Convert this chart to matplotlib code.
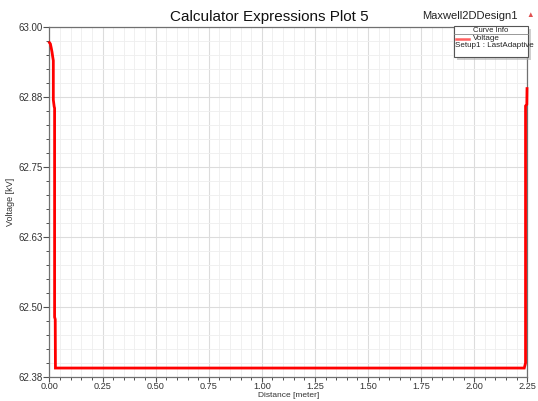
import numpy as np
import matplotlib
matplotlib.use('Agg')
import matplotlib.pyplot as plt
from matplotlib.ticker import MultipleLocator, FixedLocator, FormatStrFormatter
from matplotlib.patches import Rectangle

plt.rcParams['font.family'] = ['Liberation Sans', 'DejaVu Sans']

# voltage along the line
dist = [0.000, 0.004, 0.008, 0.012, 0.015, 0.018, 0.018, 0.022, 0.024, 0.024,
        0.027, 0.028, 2.236, 2.242, 2.242, 2.248, 2.249]
volt = [62.972, 62.970, 62.963, 62.955, 62.947, 62.940, 62.870, 62.858, 62.855, 62.482,
        62.478, 62.391, 62.391, 62.400, 62.859, 62.862, 62.890]

yticks = [62.375, 62.5, 62.625, 62.75, 62.875, 63.0]
ytick_labels = ['62.38', '62.50', '62.63', '62.75', '62.88', '63.00']

fig = plt.figure(figsize=(5.38, 4.01), dpi=100)
ax = fig.add_axes([0.092, 24/401, 0.888, 350/401])

ax.plot(dist, volt, color='#ff0000', lw=2.0, solid_joinstyle='miter', clip_on=False, zorder=3)

ax.set_xlim(0, 2.25)
ax.set_ylim(62.375, 63.0)
ax.xaxis.set_major_locator(MultipleLocator(0.25))
ax.xaxis.set_minor_locator(MultipleLocator(0.05))
ax.xaxis.set_major_formatter(FormatStrFormatter('%.2f'))
ax.yaxis.set_major_locator(FixedLocator(yticks))
ax.set_yticklabels(ytick_labels)
ax.yaxis.set_minor_locator(MultipleLocator(0.025))

ax.grid(which='major', color='#dcdcdc', lw=0.8)
ax.grid(which='minor', color='#eeeeee', lw=0.6)
ax.set_axisbelow(True)
for s in ax.spines.values():
    s.set_color('#707070')
    s.set_linewidth(0.9)
ax.tick_params(which='major', length=4, width=0.8, color='#505050', labelsize=7, labelcolor='#333333', pad=1)
ax.tick_params(axis='x', which='major', length=3.5, labelsize=6.6, pad=0.3)
ax.tick_params(which='minor', length=2.5, width=0.7, color='#505050')

ax.set_xlabel('Distance [meter]', fontsize=6.0, color='#333333')
ax.xaxis.set_label_coords(0.5, -15.0/350)
ax.set_ylabel('Voltage [kV]', fontsize=6.5, color='#333333', labelpad=2)

fig.text(0.5, 0.958, 'Calculator Expressions Plot 5', ha='center', va='center', fontsize=11, color='#111111')
fig.text(0.963, 0.960, 'Maxwell2DDesign1', ha='right', va='center', fontsize=8, color='#222222')
fig.text(0.985, 0.962, '\u25b2', ha='center', va='center', fontsize=5.5, color='#e05050')

# "Curve Info" box
bx0, by0, bw, bh = 454/538, 1-57/401, 74/538, 31/401
fig.patches.append(Rectangle((bx0+0.006, by0-0.008), bw, bh, transform=fig.transFigure,
                             facecolor='#b0b0b0', edgecolor='none', zorder=4, alpha=0.6))
fig.patches.append(Rectangle((bx0, by0), bw, bh, transform=fig.transFigure,
                             facecolor='white', edgecolor='#555555', lw=0.8, zorder=5))
fig.lines.append(plt.Line2D([bx0, bx0+bw], [by0+bh-8/401]*2, transform=fig.transFigure,
                            color='#888888', lw=0.6, zorder=6))
fig.text(bx0+bw/2, by0+bh-4/401, 'Curve Info', ha='center', va='center', fontsize=5.5, color='#222222', zorder=7)
fig.lines.append(plt.Line2D([bx0+2/538, bx0+15/538], [by0+bh-13/401]*2, transform=fig.transFigure,
                            color='#ff6060', lw=1.8, zorder=6))
fig.text(bx0+19/538, by0+bh-13/401, 'Voltage', ha='left', va='center', fontsize=5.8, color='#222222', zorder=7)
fig.text(bx0+1/538, by0+bh-19/401, 'Setup1 : LastAdaptive', ha='left', va='center', fontsize=5.8, color='#222222', zorder=7)

fig.savefig('out.png', dpi=100)
